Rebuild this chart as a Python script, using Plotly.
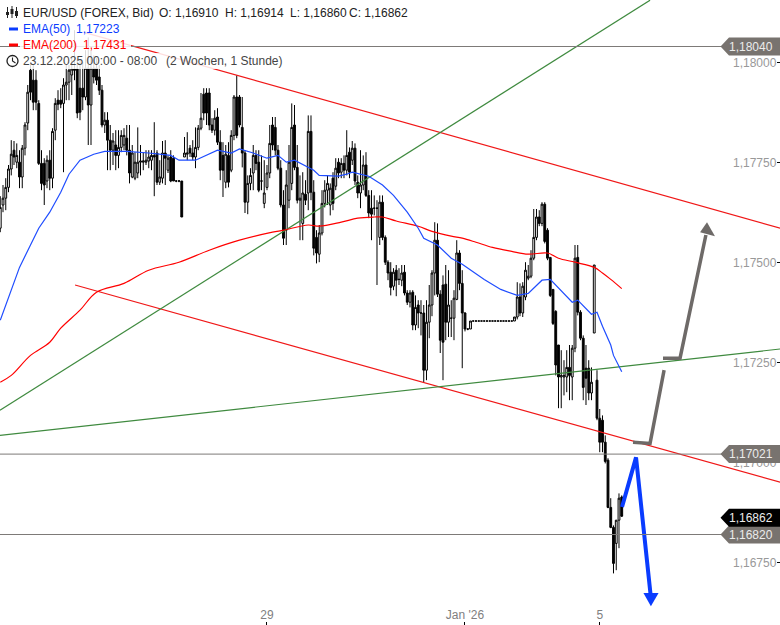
import numpy as np
import plotly.graph_objects as go

# hourly candles, prices in 1/100000
open_pts = [117582,
    117640,117657,117684,117730,117777,117747,117747,117710,117782,117845,
    117977,117952,117952,117894,117744,117744,117700,117752,117707,117827,
    117902,117902,117894,117940,117947,117965,117980,117980,117932,117932,
    117910,117982,117890,117982,117982,117960,117927,117840,117852,117802,
    117777,117790,117764,117784,117790,117807,117777,117710,117707,117720,
    117747,117747,117747,117750,117752,117764,117770,117697,117707,117770,
    117727,117760,117757,117700,117700,117700,117760,117767,117782,117770,
    117760,117784,117832,117917,117920,117920,117840,117827,117860,117797,
    117764,117697,117764,117727,117814,117910,117910,117834,117770,117647,
    117694,117720,117764,117747,117700,117644,117684,117720,117840,117834,
    117777,117732,117640,117577,117652,117694,117840,117734,117652,117594,
    117667,117670,117824,117672,117559,117517,117570,117644,117677,117640,
    117707,117687,117747,117722,117744,117727,117772,117752,117782,117697,
    117670,117690,117740,117664,117632,117632,117632,117559,117647,117559,
    117497,117472,117437,117477,117454,117452,117472,117420,117397,117422,
    117340,117390,117370,117370,117227,117347,117390,117470,117552,117417,
    117440,117442,117347,117357,117357,117404,117520,117444,117370,117330,
    117330,117350,117350,117350,117350,117350,117350,117350,117350,117350,
    117350,117350,117350,117350,117350,117350,117350,117360,117410,117370,
    117410,117457,117462,117507,117559,117610,117594,117642,117577,117509,
    117429,117374,117290,117210,117210,117210,117234,117210,117282,117509,
    117372,117307,117232,117232,117170,117320,117202,117107,117102,117047,
    117002,116884,116834,116794,116852,116910]
high_pts = [117662,
    117690,117707,117740,117802,117800,117794,117777,117790,117847,117940,
    117997,117990,117977,117902,117777,117757,117764,117777,117832,117907,
    117927,117932,117957,117990,117990,118007,118077,118002,118002,117997,
    118027,118059,118027,118014,118007,117990,117940,117872,117872,117840,
    117820,117827,117827,117827,117832,117840,117840,117790,117772,117834,
    117790,117772,117777,117777,117777,117847,117777,117752,117800,117802,
    117764,117777,117764,117702,117702,117700,117810,117822,117790,117802,
    117834,117840,117920,117932,117932,117932,117857,117877,117882,117827,
    117797,117790,117797,117827,117915,117964,117915,117910,117777,117714,
    117732,117790,117777,117777,117764,117752,117740,117840,117860,117860,
    117790,117752,117677,117727,117790,117894,117890,117790,117714,117722,
    117702,117864,117864,117702,117577,117590,117677,117702,117714,117694,
    117722,117757,117757,117757,117764,117827,117784,117800,117794,117714,
    117777,117764,117772,117677,117677,117664,117652,117664,117664,117564,
    117502,117497,117482,117490,117482,117490,117490,117427,117427,117427,
    117414,117402,117402,117390,117402,117440,117477,117597,117594,117427,
    117464,117490,117477,117402,117427,117552,117527,117477,117372,117330,
    117350,117350,117350,117350,117350,117350,117350,117350,117350,117350,
    117350,117350,117350,117350,117350,117350,117360,117447,117444,117447,
    117497,117490,117527,117630,117630,117627,117647,117647,117582,117509,
    117429,117377,117290,117277,117252,117277,117290,117290,117540,117540,
    117377,117314,117290,117252,117234,117490,117227,117130,117114,117064,
    117007,116907,116839,116852,116919,116914]
low_pts = [117572,
    117622,117627,117672,117714,117740,117732,117682,117682,117764,117827,
    117902,117877,117877,117740,117677,117640,117682,117677,117682,117802,
    117877,117882,117722,117902,117902,117915,117952,117857,117852,117877,
    117902,117790,117790,117944,117940,117915,117834,117820,117727,117727,
    117740,117727,117732,117772,117777,117764,117694,117707,117702,117707,
    117714,117727,117740,117732,117727,117662,117690,117690,117694,117690,
    117720,117697,117700,117697,117697,117610,117760,117752,117760,117752,
    117732,117777,117827,117852,117840,117827,117820,117814,117790,117702,
    117660,117682,117684,117722,117802,117807,117834,117734,117620,117617,
    117677,117677,117727,117672,117677,117632,117677,117707,117777,117764,
    117727,117634,117540,117540,117632,117677,117727,117644,117552,117552,
    117640,117627,117652,117514,117494,117497,117564,117634,117640,117614,
    117627,117677,117707,117707,117707,117714,117707,117740,117690,117657,
    117632,117677,117660,117607,117552,117614,117440,117540,117552,117490,
    117452,117414,117427,117412,117440,117437,117414,117390,117384,117327,
    117327,117332,117314,117197,117202,117307,117362,117414,117410,117270,
    117202,117302,117310,117310,117302,117402,117427,117232,117324,117327,
    117330,117350,117350,117350,117350,117350,117350,117350,117350,117350,
    117350,117350,117350,117350,117350,117350,117350,117354,117362,117360,
    117402,117452,117457,117502,117552,117587,117587,117544,117502,117410,
    117340,117214,117132,117132,117164,117172,117152,117152,117272,117364,
    117302,117152,117140,117152,117152,117320,117102,117022,117022,116994,
    116882,116832,116719,116727,116782,116860]
close_pts = [117634,
    117657,117684,117730,117767,117760,117764,117710,117782,117840,117922,
    117922,117897,117897,117744,117694,117690,117752,117707,117824,117894,
    117892,117892,117940,117947,117977,117980,117977,117870,117872,117910,
    117982,117890,117982,117960,117952,117927,117840,117852,117802,117777,
    117800,117764,117784,117814,117814,117777,117720,117770,117747,117747,
    117750,117750,117752,117760,117764,117760,117697,117710,117770,117757,
    117757,117700,117700,117700,117700,117610,117770,117770,117770,117760,
    117784,117832,117857,117870,117870,117840,117827,117857,117797,117727,
    117727,117767,117697,117814,117910,117814,117840,117770,117647,117694,
    117714,117764,117744,117677,117700,117670,117720,117794,117790,117777,
    117732,117640,117557,117690,117747,117834,117734,117652,117657,117670,
    117652,117824,117672,117532,117520,117570,117644,117677,117694,117682,
    117644,117732,117720,117744,117727,117764,117722,117782,117700,117670,
    117690,117740,117664,117620,117617,117632,117632,117647,117559,117497,
    117470,117434,117472,117452,117454,117470,117420,117397,117420,117340,
    117384,117370,117370,117227,117347,117390,117470,117552,117417,117302,
    117297,117347,117390,117357,117407,117520,117444,117370,117330,117330,
    117350,117350,117350,117350,117350,117350,117350,117350,117350,117350,
    117350,117350,117350,117350,117350,117350,117360,117410,117370,117437,
    117477,117462,117507,117559,117610,117594,117642,117549,117507,117414,
    117344,117240,117210,117214,117214,117234,117214,117282,117507,117372,
    117307,117184,117207,117170,117197,117490,117107,117047,117047,116999,
    116884,116834,116744,116852,116907,116862]
bars = list(range(-1, 226))

ema50_bars = [-1,3,6,10,13,17,21,24,28,33,37,45,53,61,64,70,74,78,83,86,91,96,100,103,106,110,113,115,122,125,127,133,138,142,147,151,153,158,163,167,175,181,187,191,194,196,199,201,207,209,214,216,218,221,222,225]
ema50_pts = [117352,117427,117484,117540,117582,117622,117672,117717,117752,117767,117774,117774,117770,117764,117752,117752,117764,117777,117770,117780,117770,117757,117764,117747,117752,117737,117727,117714,117712,117717,117722,117712,117690,117664,117622,117582,117557,117540,117507,117492,117454,117429,117414,117419,117440,117452,117454,117440,117397,117402,117367,117372,117337,117290,117264,117223]
ema200_bars = [-1,3,10,17,21,28,34,44,53,64,75,86,98,102,111,115,123,129,135,138,143,151,156,163,167,172,178,185,191,198,202,208,215,218,221,225]
ema200_pts = [117197,117214,117264,117297,117332,117377,117422,117444,117477,117497,117527,117552,117572,117577,117590,117587,117597,117607,117610,117610,117600,117587,117574,117562,117557,117547,117534,117524,117517,117520,117507,117497,117484,117470,117454,117431]

# hand drawn trend lines (bar, price)
upper_red = ([29.8, 282.6], [1.18071, 1.17582])
lower_red = ([26.2, 282.6], [1.17440, 1.16947])
green_up = ([-1.1, 235.3], [1.17127, 1.18152])
green_flat = ([-1.1, 282.6], [1.17064, 1.17280])

gray_leg1 = ([229.1, 235.3, 240.4], [1.17047, 1.17044, 1.17227])
gray_leg2 = ([240.0, 246.2, 255.6], [1.17257, 1.17257, 1.17565])
gray_head = ([253.5, 256.0, 258.9], [1.17572, 1.17597, 1.17562])
blue_leg = ([225.1, 230.2, 235.5], [1.16885, 1.17009, 1.16665])
blue_head = ([232.9, 235.6, 238.4], [1.16670, 1.16637, 1.16670])

level_prices = [1.18040, 1.17021, 1.16820]
last_close = 1.16862
ytick_vals = [1.18, 1.1775, 1.175, 1.1725, 1.17, 1.1675]
ytick_text = ['1,18000', '1,17750', '1,17500', '1,17250', '1,17000', '1,16750']
xtick_vals = [96, 168, 217]
xtick_text = ['29', "Jan '26", '5']

W, H = 780, 625
TAG_GRAY = '#78736f'
BLUE = '#0a3cff'
READ_OFFSET = 0.0000375  # prices were read against a scale 1.5px off the tags
px = lambda x: x / W
py = lambda y: 1 - y / H
price = lambda pts: np.array(pts) / 1e5 + READ_OFFSET
drawn = lambda ys: np.array(ys) + READ_OFFSET

fig = go.Figure()
fig.add_trace(go.Candlestick(
    x=bars, open=price(open_pts), high=price(high_pts), low=price(low_pts), close=price(close_pts),
    increasing=dict(line=dict(color='#000000', width=1), fillcolor='#ffffff'),
    decreasing=dict(line=dict(color='#000000', width=1), fillcolor='#000000'),
    whiskerwidth=0, hoverinfo='skip',
))

for xs, ys, color in [(*upper_red, '#f01818'), (*lower_red, '#f01818'),
                      (*green_up, '#3f8a3f'), (*green_flat, '#3f8a3f')]:
    fig.add_trace(go.Scatter(x=xs, y=drawn(ys), mode='lines', line=dict(color=color, width=1.2), hoverinfo='skip'))

fig.add_trace(go.Scatter(x=ema200_bars, y=price(ema200_pts), mode='lines',
                         line=dict(color='#ff0000', width=1.2, shape='spline'), hoverinfo='skip'))
fig.add_trace(go.Scatter(x=ema50_bars, y=price(ema50_pts), mode='lines',
                         line=dict(color='#1f4dff', width=1.2), hoverinfo='skip'))

for xs, ys in [gray_leg1, gray_leg2]:
    fig.add_trace(go.Scatter(x=xs, y=drawn(ys), mode='lines', line=dict(color='#6e6a68', width=3.5), hoverinfo='skip'))
fig.add_trace(go.Scatter(x=gray_head[0], y=drawn(gray_head[1]), mode='lines', fill='toself', fillcolor='#6e6a68',
                         line=dict(color='#6e6a68', width=0), hoverinfo='skip'))
fig.add_trace(go.Scatter(x=blue_leg[0], y=drawn(blue_leg[1]), mode='lines', line=dict(color=BLUE, width=4), hoverinfo='skip'))
fig.add_trace(go.Scatter(x=blue_head[0], y=drawn(blue_head[1]), mode='lines', fill='toself', fillcolor=BLUE,
                         line=dict(color=BLUE, width=0), hoverinfo='skip'))

shapes = []
annotations = []

# level lines and price tags on the right
half_tag = 0.000225
def price_tag(level, color):
    path = (f'M {px(720.5)} {level} L {px(729)} {level + half_tag} L 1 {level + half_tag} '
            f'L 1 {level - half_tag} L {px(729)} {level - half_tag} Z')
    shapes.append(dict(type='path', path=path, xref='paper', yref='y', fillcolor=color, line=dict(width=0), layer='above'))
    annotations.append(dict(x=px(775), y=level, xref='paper', yref='y', xanchor='right', yanchor='middle',
                            text=f'{level:.5f}'.replace('.', ','), showarrow=False,
                            font=dict(color='#ebebeb', size=12)))

for p in level_prices:
    shapes.append(dict(type='line', x0=0, x1=px(722), y0=p, y1=p, xref='paper', yref='y',
                       line=dict(color='#7d7a78', width=1), layer='above'))
for p in level_prices:
    price_tag(p, TAG_GRAY)
price_tag(last_close, '#000000')

# header rows wash out whatever runs behind them
for x1, y0, y1 in [(412, 5, 21), (122, 21, 37), (131, 37, 53), (285, 53, 69)]:
    shapes.append(dict(type='rect', x0=px(20), x1=px(x1), y0=py(y1), y1=py(y0), xref='paper', yref='paper',
                       fillcolor='rgba(255,255,255,0.85)', line=dict(width=0), layer='above'))

# header icons
for x, top, bottom, b0, b1 in [(7.5, 7, 18, 12, 15), (12, 6, 18, 9, 14), (16.5, 7, 18, 11, 16)]:
    shapes.append(dict(type='line', x0=px(x), x1=px(x), y0=py(top), y1=py(bottom), xref='paper', yref='paper',
                       line=dict(color='#222222', width=1), layer='above'))
    shapes.append(dict(type='rect', x0=px(x - 1.5), x1=px(x + 1.5), y0=py(b1), y1=py(b0), xref='paper', yref='paper',
                       fillcolor='#222222', line=dict(width=0), layer='above'))
for y, color in [(29, BLUE), (45, '#ff0000')]:
    shapes.append(dict(type='rect', x0=px(9), x1=px(18), y0=py(y + 1.5), y1=py(y - 1.5), xref='paper', yref='paper',
                       fillcolor=color, line=dict(width=0), layer='above'))
shapes.append(dict(type='circle', x0=px(7), x1=px(18), y0=py(66.5), y1=py(55.5), xref='paper', yref='paper',
                   line=dict(color='#222222', width=1.3), fillcolor='#ffffff', layer='above'))
shapes.append(dict(type='path', path=f'M {px(12.5)} {py(57.5)} L {px(12.5)} {py(61)} L {px(15.5)} {py(63)}',
                   xref='paper', yref='paper', line=dict(color='#222222', width=1.1), layer='above'))

def header(x, y, text, color):
    annotations.append(dict(x=px(x), y=py(y), xref='paper', yref='paper', xanchor='left', yanchor='middle',
                            text=text, showarrow=False, font=dict(color=color, size=12)))

header(21, 13, 'EUR/USD (FOREX, Bid)', '#222222')
header(157, 13, 'O: 1,16910', '#222222')
header(223, 13, 'H: 1,16914', '#222222')
header(288, 13, 'L: 1,16860', '#222222')
header(347, 13, 'C: 1,16862', '#222222')
header(21, 29, 'EMA(50)', BLUE)
header(74, 29, '1,17223', BLUE)
header(21, 45, 'EMA(200)', '#ff0000')
header(81, 45, '1,17431', '#ff0000')
header(21, 61, '23.12.2025 00:00 - 08:00', '#444444')
header(164, 61, '(2 Wochen, 1 Stunde)', '#444444')

fig.update_layout(
    width=W, height=H, margin=dict(l=0, r=0, t=0, b=0, pad=0), autosize=False,
    paper_bgcolor='#ffffff', plot_bgcolor='#ffffff', showlegend=False, boxgap=0.05,
    font=dict(family='Liberation Sans, Arial, sans-serif', size=12),
    shapes=shapes, annotations=annotations,
    xaxis=dict(range=[-1.09, 282.55], rangeslider=dict(visible=False), showgrid=False, zeroline=False,
               showline=False, ticks='inside', ticklen=3, tickcolor='#000000', tickwidth=1,
               ticklabelposition='inside', tickvals=xtick_vals, ticktext=xtick_text,
               tickfont=dict(color='#808080', size=12)),
    yaxis=dict(range=[1.1659375, 1.1815625], side='right', showgrid=False, zeroline=False, showline=False,
               ticks='inside', ticklen=3, tickcolor='#000000', tickwidth=1,
               ticklabelposition='inside', tickvals=ytick_vals, ticktext=ytick_text,
               tickfont=dict(color='#999999', size=12)),
)

# the page's default body margin would shift the plot by 8px
fig.write_html("out.html", config=dict(displayModeBar=False),
               post_script="document.body.style.margin='0';")
